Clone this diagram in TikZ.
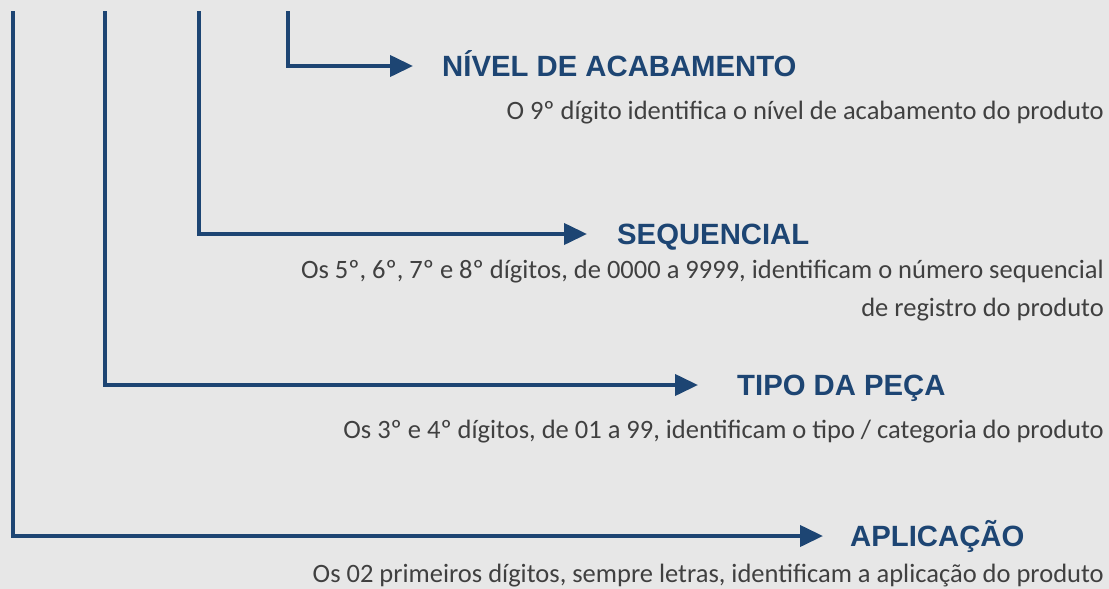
\documentclass[tikz,border=0pt]{standalone}
\usepackage{fontspec}
\setmainfont{Carlito}
\newfontfamily\titlefont{Liberation Sans}
\usetikzlibrary{arrows.meta, positioning}
\definecolor{codeblue}{RGB}{29, 69, 115}
\definecolor{descgray}{RGB}{64, 64, 64}
\definecolor{bggray}{RGB}{231, 231, 231}

\begin{document}
\begin{tikzpicture}[
  x=1pt, y=-1pt,
  title/.style={anchor=west, inner sep=0pt, text height=21pt, text depth=0pt, text=codeblue, font=\titlefont\bfseries\fontsize{29.3}{34}\selectfont},
  desc/.style={anchor=base east, inner sep=0pt, align=right, text=descgray, font=\fontsize{26.5}{38}\selectfont},
  branch/.style={draw=codeblue, line width=4pt, -{Triangle[length=23pt, width=21pt]}}
]
  \fill[bggray] (0,0) rectangle (1109,589);
  \useasboundingbox (0,0) rectangle (1109,589);

  \coordinate (top1) at (12.5, 11);
  \coordinate (top2) at (105, 11);
  \coordinate (top3) at (199, 11);
  \coordinate (top4) at (288, 11);

  \node[title] (nivel) at (442, 66) {NÍVEL DE ACABAMENTO};
  \node[desc] (niveldesc) at (1104, 119) {O 9º dígito identifica o nível de acabamento do produto};

  \node[title] (seq) at (617, 234) {SEQUENCIAL};
  \node[desc] (seqdesc) at (1104, 316) {Os 5º, 6º, 7º e 8º dígitos, de 0000 a 9999, identificam o número sequencial\\de registro do produto};

  \node[title] (tipo) at (737, 385) {TIPO DA PEÇA};
  \node[desc] (tipodesc) at (1104, 438) {Os 3º e 4º dígitos, de 01 a 99, identificam o tipo / categoria do produto};

  \node[title] (aplic) at (850, 536) {APLICAÇÃO};
  \node[desc] (aplicdesc) at (1104, 582) {Os 02 primeiros dígitos, sempre letras, identificam a aplicação do produto};

  \draw[branch, shorten >=29pt] (top4) |- (nivel.west);
  \draw[branch, shorten >=30pt] (top3) |- (seq.west);
  \draw[branch, shorten >=39pt] (top2) |- (tipo.west);
  \draw[branch, shorten >=27pt] (top1) |- (aplic.west);
\end{tikzpicture}
\end{document}
